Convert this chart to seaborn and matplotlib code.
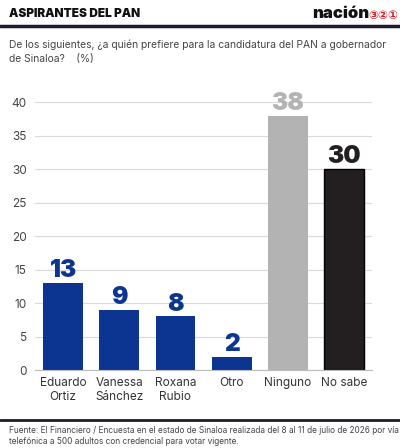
import matplotlib
matplotlib.use("Agg")
import matplotlib.pyplot as plt
import seaborn as sns
import pandas as pd
from matplotlib.lines import Line2D

# ===== datos =====
categorias = ["Eduardo\nOrtiz", "Vanessa\nSánchez", "Roxana\nRubio", "Otro", "Ninguno", "No sabe"]
valores = [13, 9, 8, 2, 38, 30]
colores = ["#0b3591", "#0b3591", "#0b3591", "#0b3591", "#b3b3b3", "#231f20"]
yticks = [0, 5, 10, 15, 20, 25, 30, 35, 40]

df = pd.DataFrame({"cat": categorias, "val": valores})

sns.set_style("white")
plt.rcParams["font.family"] = ["Inter", "DejaVu Sans", "Noto Sans CJK JP"]

fig = plt.figure(figsize=(4.0, 4.48), dpi=100)
ax = fig.add_axes([0.0875, 0.174, 0.843, 0.598])

sns.barplot(data=df, x="cat", y="val", hue="cat", palette=colores,
            legend=False, width=0.71, ax=ax, saturation=1)
for p in ax.patches:
    p.set_edgecolor("none")
ax.patches[-1].set_edgecolor("#000000")
ax.patches[-1].set_linewidth(1.0)

# etiquetas de valor
for i, (v, c) in enumerate(zip(valores, colores)):
    ax.text(i, v + 0.1, str(v), ha="center", va="bottom", fontsize=17.5,
            fontweight="black", color=c, clip_on=False)

ax.set_ylim(0, 40)
ax.set_xlim(-0.5, 5.5)
ax.set_yticks(yticks)
ax.yaxis.grid(True, color="#d9d9d9", linewidth=0.8)
ax.set_axisbelow(True)
ax.set_xlabel("")
ax.set_ylabel("")
for s in ["top", "right", "left"]:
    ax.spines[s].set_visible(False)
ax.spines["bottom"].set_color("#bbbbbb")
ax.spines["bottom"].set_linewidth(0.8)
ax.tick_params(axis="y", length=0, labelsize=8.5, labelcolor="#444444", pad=6)
ax.tick_params(axis="x", length=0, labelsize=8.5, labelcolor="#333333", pad=5)
ax.set_xticks(range(len(categorias)), minor=False)
ax.set_xticks([-0.5 + i for i in range(len(categorias) + 1)], minor=True)
ax.tick_params(axis="x", which="minor", length=3, color="#bbbbbb", width=0.8)

# encabezado
fig.text(0.022, 0.968, "ASPIRANTES DEL PAN", fontsize=8.5, fontweight="black",
         color="#111111", va="center", ha="left")
fig.text(0.922, 0.969, "nación", fontsize=12, fontweight="black", color="#111111",
         va="center", ha="right")
fig.text(0.995, 0.966, "③②①", fontsize=8.5, color="#d6202a", va="center", ha="right",
         family=["DejaVu Sans", "Noto Sans CJK JP"], fontweight="bold")
fig.add_artist(Line2D([0, 1], [0.941, 0.941], transform=fig.transFigure,
                      color="#1c1c2c", linewidth=2.5))

fig.text(0.022, 0.884, "De los siguientes, ¿a quién prefiere para la candidatura del PAN a gobernador\n"
         "de Sinaloa?    (%)", fontsize=7.4, color="#444444", va="center", ha="left",
         linespacing=1.5)

# pie
fig.add_artist(Line2D([0, 1], [0.062, 0.062], transform=fig.transFigure,
                      color="#1c1c2c", linewidth=2.0))
fig.text(0.022, 0.027, "Fuente: El Financiero / Encuesta en el estado de Sinaloa realizada del 8 al 11 de julio de 2026 por vía\n"
         "telefónica a 500 adultos con credencial para votar vigente.", fontsize=6.0,
         color="#444444", va="center", ha="left", linespacing=1.4)

fig.savefig("out.png", dpi=100, facecolor="white")
